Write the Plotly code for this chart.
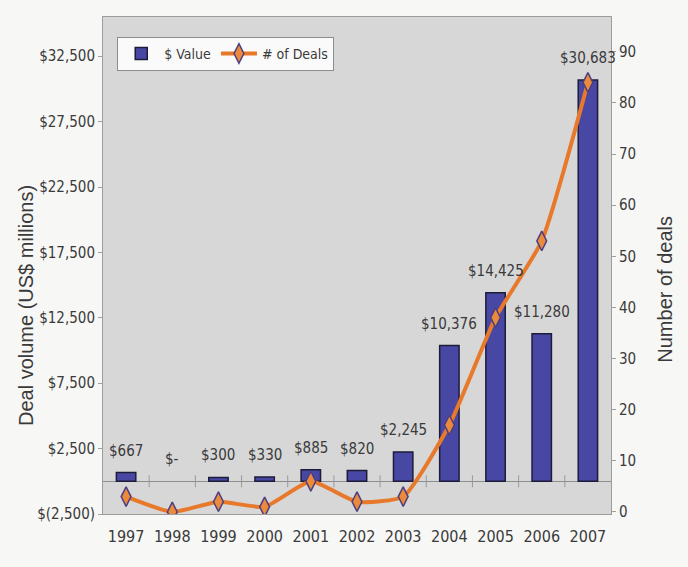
import plotly.graph_objects as go

# Deal volume and deal count by year
years = [1997, 1998, 1999, 2000, 2001, 2002, 2003, 2004, 2005, 2006, 2007]
deal_value = [667, 0, 300, 330, 885, 820, 2245, 10376, 14425, 11280, 30683]
deal_count = [3, 0, 2, 1, 6, 2, 3, 17, 38, 53, 84]

value_ticks = [-2500, 2500, 7500, 12500, 17500, 22500, 27500, 32500]
count_ticks = [0, 10, 20, 30, 40, 50, 60, 70, 80, 90]

NARROW = "Liberation Sans Narrow, Arial Narrow, DejaVu Sans Condensed, sans-serif"
SANS = "Liberation Sans, Arial, sans-serif"
TEXT = "#3a3a3a"


def money(v):
    if v == 0:
        return "$-"
    if v < 0:
        return "$({:,})".format(-v)
    return "${:,}".format(v)


fig = go.Figure()

fig.add_trace(go.Bar(
    x=years, y=deal_value, name="$ Value",
    width=0.42,
    marker=dict(color="#4848a4",
                line=dict(color="#1c1c3a",
                          width=[1.5 if v else 0 for v in deal_value])),
    yaxis="y",
))

fig.add_trace(go.Scatter(
    x=years, y=deal_count, name="# of Deals",
    mode="lines+markers",
    line=dict(color="#e8782a", width=4, shape="spline", smoothing=0.5),
    marker=dict(symbol="diamond-tall", size=14, color="#ec8a3c",
                line=dict(color="#4b3f82", width=1.5)),
    yaxis="y2",
))

# value labels above each bar
annotations = [
    dict(x=yr, y=v, xref="x", yref="y", text=money(v), showarrow=False,
         yanchor="bottom", yshift=11,
         font=dict(family=NARROW, size=15, color=TEXT))
    for yr, v in zip(years, deal_value)
]

# axis titles
annotations.append(dict(
    text="Deal volume (US$ millions)", textangle=-90, showarrow=False,
    xref="paper", yref="paper", x=-0.152, y=0.42,
    xanchor="center", yanchor="middle",
    font=dict(family=SANS, size=20, color=TEXT)))
annotations.append(dict(
    text="Number of deals", textangle=-90, showarrow=False,
    xref="paper", yref="paper", x=1.106, y=0.453,
    xanchor="center", yanchor="middle",
    font=dict(family=SANS, size=20, color=TEXT)))

# small year-boundary ticks crossing the zero line
shapes = [
    dict(type="line", xref="x", x0=yr + 0.5, x1=yr + 0.5,
         yref="y", ysizemode="pixel", yanchor=0, y0=-6, y1=6,
         line=dict(color="#9a9a9a", width=1))
    for yr in years[:-1]
]

fig.update_layout(
    width=688, height=567,
    margin=dict(l=103, r=77, t=17, b=53),
    paper_bgcolor="#f7f7f5",
    plot_bgcolor="#d7d7d7",
    showlegend=True,
    legend=dict(orientation="h", x=0.028, y=0.96, xanchor="left", yanchor="top",
                bgcolor="#fafafa", bordercolor="#8c8c8c", borderwidth=1,
                itemwidth=36, font=dict(family=NARROW, size=14, color=TEXT)),
    xaxis=dict(range=[years[0] - 0.5, years[-1] + 0.5], tickvals=years,
               showgrid=False, zeroline=False, ticks="",
               showline=True, mirror=True, linecolor="#9c9c9c", linewidth=1,
               tickfont=dict(family=NARROW, size=16, color=TEXT),
               ticklabelstandoff=8),
    yaxis=dict(range=[-2500, 35500], tickvals=value_ticks,
               ticktext=[money(v) for v in value_ticks],
               showgrid=False, zeroline=True, zerolinecolor="#8e8e8e", zerolinewidth=1,
               showline=True, mirror=True, linecolor="#9c9c9c", linewidth=1,
               ticks="outside", ticklen=4, tickcolor="#a0a0a0",
               tickfont=dict(family=NARROW, size=15, color=TEXT)),
    yaxis2=dict(overlaying="y", side="right", range=[-0.4, 96.8],
                tickvals=count_ticks, showgrid=False, zeroline=False,
                ticks="outside", ticklen=4, tickcolor="#a0a0a0",
                tickfont=dict(family=NARROW, size=15, color=TEXT)),
    annotations=annotations,
    shapes=shapes,
)

fig.write_html("out.html")
